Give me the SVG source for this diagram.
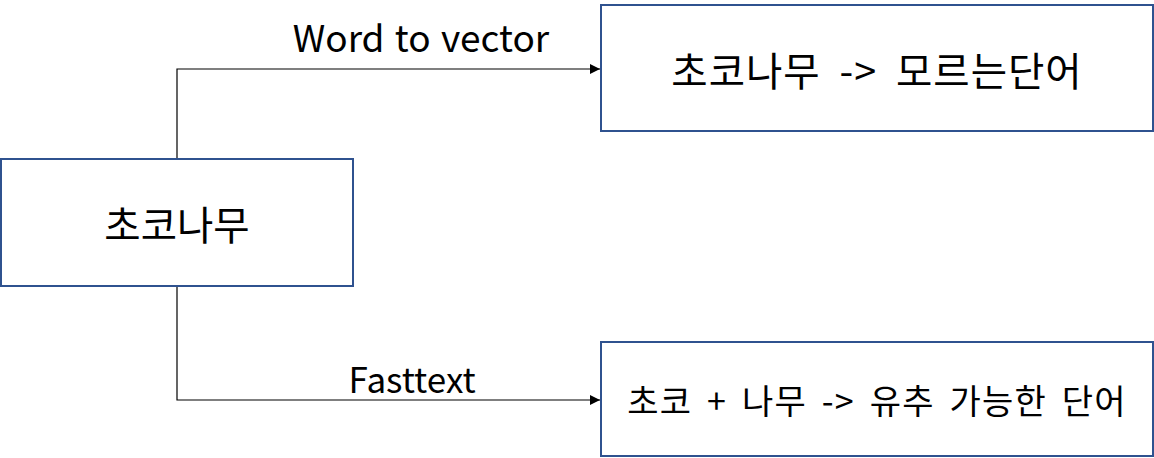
<svg xmlns="http://www.w3.org/2000/svg" width="1154" height="458" viewBox="0 0 1154 458">
<style>
.box{fill:#fff;stroke:#2F528F;stroke-width:2}
.t{font-family:"Noto Sans CJK KR","Noto Sans",sans-serif;fill:#000;text-anchor:middle;dominant-baseline:central}
.c{fill:none;stroke:#000;stroke-width:1.2}
</style>
<defs>
<marker id="a" markerWidth="10" markerHeight="10" refX="10" refY="5" orient="auto" markerUnits="userSpaceOnUse">
<path d="M0,0 L10,5 L0,10 z" fill="#000"/>
</marker>
</defs>
<g id="connectors">
<path class="c" d="M177,159 V69 H600" marker-end="url(#a)"/>
<path class="c" d="M177,286 V400 H600" marker-end="url(#a)"/>
<text class="t" x="421" y="36" font-size="37" word-spacing="2">Word to vector</text>
<text class="t" x="412" y="377" font-size="35">Fasttext</text>
</g>
<g id="node-root">
<rect class="box" x="1" y="159" width="352" height="127"/>
<text class="t" x="177" y="222" font-size="39.5">초코나무</text>
</g>
<g id="node-w2v">
<rect class="box" x="601" y="5" width="552" height="126"/>
<text class="t" x="877" y="68" font-size="39.5" word-spacing="9" letter-spacing="1">초코나무 -&gt; 모르는단어</text>
</g>
<g id="node-fasttext">
<rect class="box" x="601" y="342" width="552" height="114"/>
<text class="t" x="877" y="399" font-size="34" word-spacing="6" letter-spacing="1.2">초코 + 나무 -&gt; 유추 가능한 단어</text>
</g>
</svg>
